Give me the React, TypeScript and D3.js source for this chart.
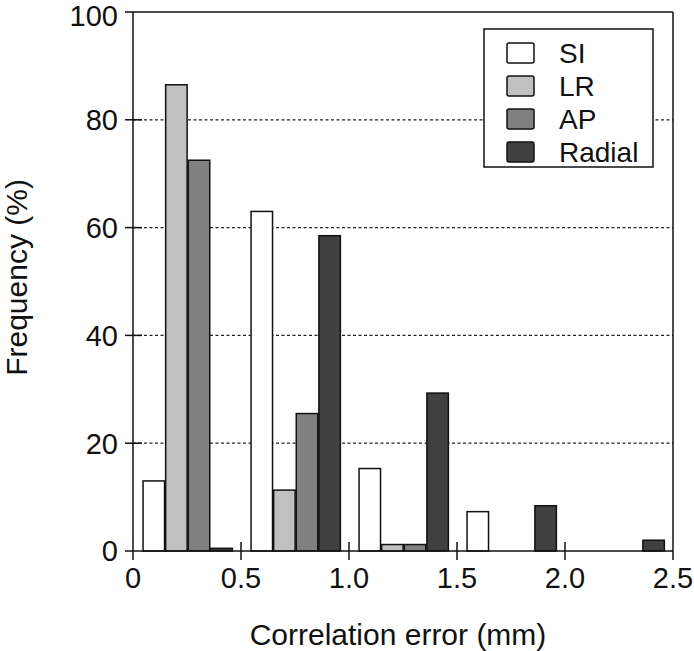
import React from "react";
import * as d3 from "d3";

const bins = [0, 0.5, 1.0, 1.5, 2.0];
const seriesNames = ["SI", "LR", "AP", "Radial"];
const siValues = [13, 63, 15.3, 7.3, 0];
const lrValues = [86.5, 11.3, 1.2, 0, 0];
const apValues = [72.5, 25.5, 1.2, 0, 0];
const radialValues = [0.5, 58.5, 29.3, 8.4, 2.0];
const seriesColors = ["#ffffff", "#c0c0c0", "#808080", "#404040"];
const xTicks = [0, 0.5, 1.0, 1.5, 2.0, 2.5];
const xTickLabels = ["0", "0.5", "1.0", "1.5", "2.0", "2.5"];
const yTicks = [0, 20, 40, 60, 80, 100];
const gridValues = [20, 40, 60, 80];

const W = 694;
const H = 651;
const FONT = "'Liberation Sans', Arial, sans-serif";

export default function App() {
  const left = 133, right = 673, top = 12, bottom = 551;
  const x = d3.scaleLinear().domain([0, 2.5]).range([left, right]);
  const y = d3.scaleLinear().domain([0, 100]).range([bottom, top]);
  const binW = x(0.5) - x(0);
  const inner = d3
    .scaleBand<string>()
    .domain(seriesNames)
    .range([binW * 0.093, binW * 0.92])
    .paddingInner(0.05);
  const allValues = [siValues, lrValues, apValues, radialValues];

  const legendX = 484, legendY = 29, legendW = 169, legendH = 138;

  return (
    <svg
      width={W}
      height={H}
      style={{ position: "absolute", left: 0, top: 0, background: "#fff" }}
      fontFamily={FONT}
    >
      <rect x={0} y={0} width={W} height={H} fill="#fff" />
      {/* gridlines */}
      {gridValues.map((g) => (
        <line
          key={"g" + g}
          x1={left}
          x2={right}
          y1={y(g)}
          y2={y(g)}
          stroke="#222"
          strokeWidth={1.3}
          strokeDasharray="3,2.5"
        />
      ))}
      {/* bars */}
      {seriesNames.map((s, si) =>
        bins.map((b, bi) => {
          const v = allValues[si][bi];
          if (v <= 0) return null;
          const bx = x(b) + (inner(s) as number);
          return (
            <rect
              key={s + bi}
              x={bx}
              y={y(v)}
              width={inner.bandwidth()}
              height={y(0) - y(v)}
              fill={seriesColors[si]}
              stroke="#111"
              strokeWidth={1.5}
            />
          );
        })
      )}
      {/* frame */}
      <line x1={left} x2={right} y1={top} y2={top} stroke="#111" strokeWidth={1.5} />
      <line x1={right} x2={right} y1={top} y2={bottom} stroke="#111" strokeWidth={1.5} />
      <line x1={left} x2={left} y1={top} y2={bottom} stroke="#111" strokeWidth={1.5} />
      <line x1={left} x2={right} y1={bottom} y2={bottom} stroke="#111" strokeWidth={1.5} />
      {/* y ticks */}
      {yTicks.map((t) => (
        <g key={"yt" + t}>
          <line
            x1={left - 8}
            x2={t === 0 || t === 100 ? left : left + 9}
            y1={y(t)}
            y2={y(t)}
            stroke="#111"
            strokeWidth={1.5}
          />
          <text
            x={left - 15}
            y={y(t) + (t === 100 ? 4 : 0)}
            dy="0.36em"
            textAnchor="end"
            fontSize={29}
            fill="#111"
          >
            {t}
          </text>
        </g>
      ))}
      {/* x ticks */}
      {xTicks.map((t, i) => (
        <g key={"xt" + t}>
          <line
            x1={x(t)}
            x2={x(t)}
            y1={i === 0 || i === xTicks.length - 1 ? bottom : bottom - 9}
            y2={bottom + 9}
            stroke="#111"
            strokeWidth={1.5}
          />
          <text x={x(t)} y={588} textAnchor="middle" fontSize={29} fill="#111">
            {xTickLabels[i]}
          </text>
        </g>
      ))}
      {/* axis titles */}
      <text x={398} y={645} textAnchor="middle" fontSize={30} fill="#111">
        Correlation error (mm)
      </text>
      <text
        transform={`translate(27, ${(top + bottom) / 2 - 4}) rotate(-90)`}
        textAnchor="middle"
        fontSize={30}
        fill="#111"
      >
        Frequency (%)
      </text>
      {/* legend */}
      <rect
        x={legendX}
        y={legendY}
        width={legendW}
        height={legendH}
        fill="#fff"
        stroke="#111"
        strokeWidth={1.5}
      />
      {seriesNames.map((s, i) => {
        const cy = 53 + i * 33;
        return (
          <g key={"lg" + s}>
            <rect
              x={507}
              y={cy - 10}
              width={27}
              height={20}
              rx={2}
              fill={seriesColors[i]}
              stroke="#111"
              strokeWidth={1.5}
            />
            <text x={559} y={cy + 10} fontSize={28} fill="#111">
              {s}
            </text>
          </g>
        );
      })}
    </svg>
  );
}
